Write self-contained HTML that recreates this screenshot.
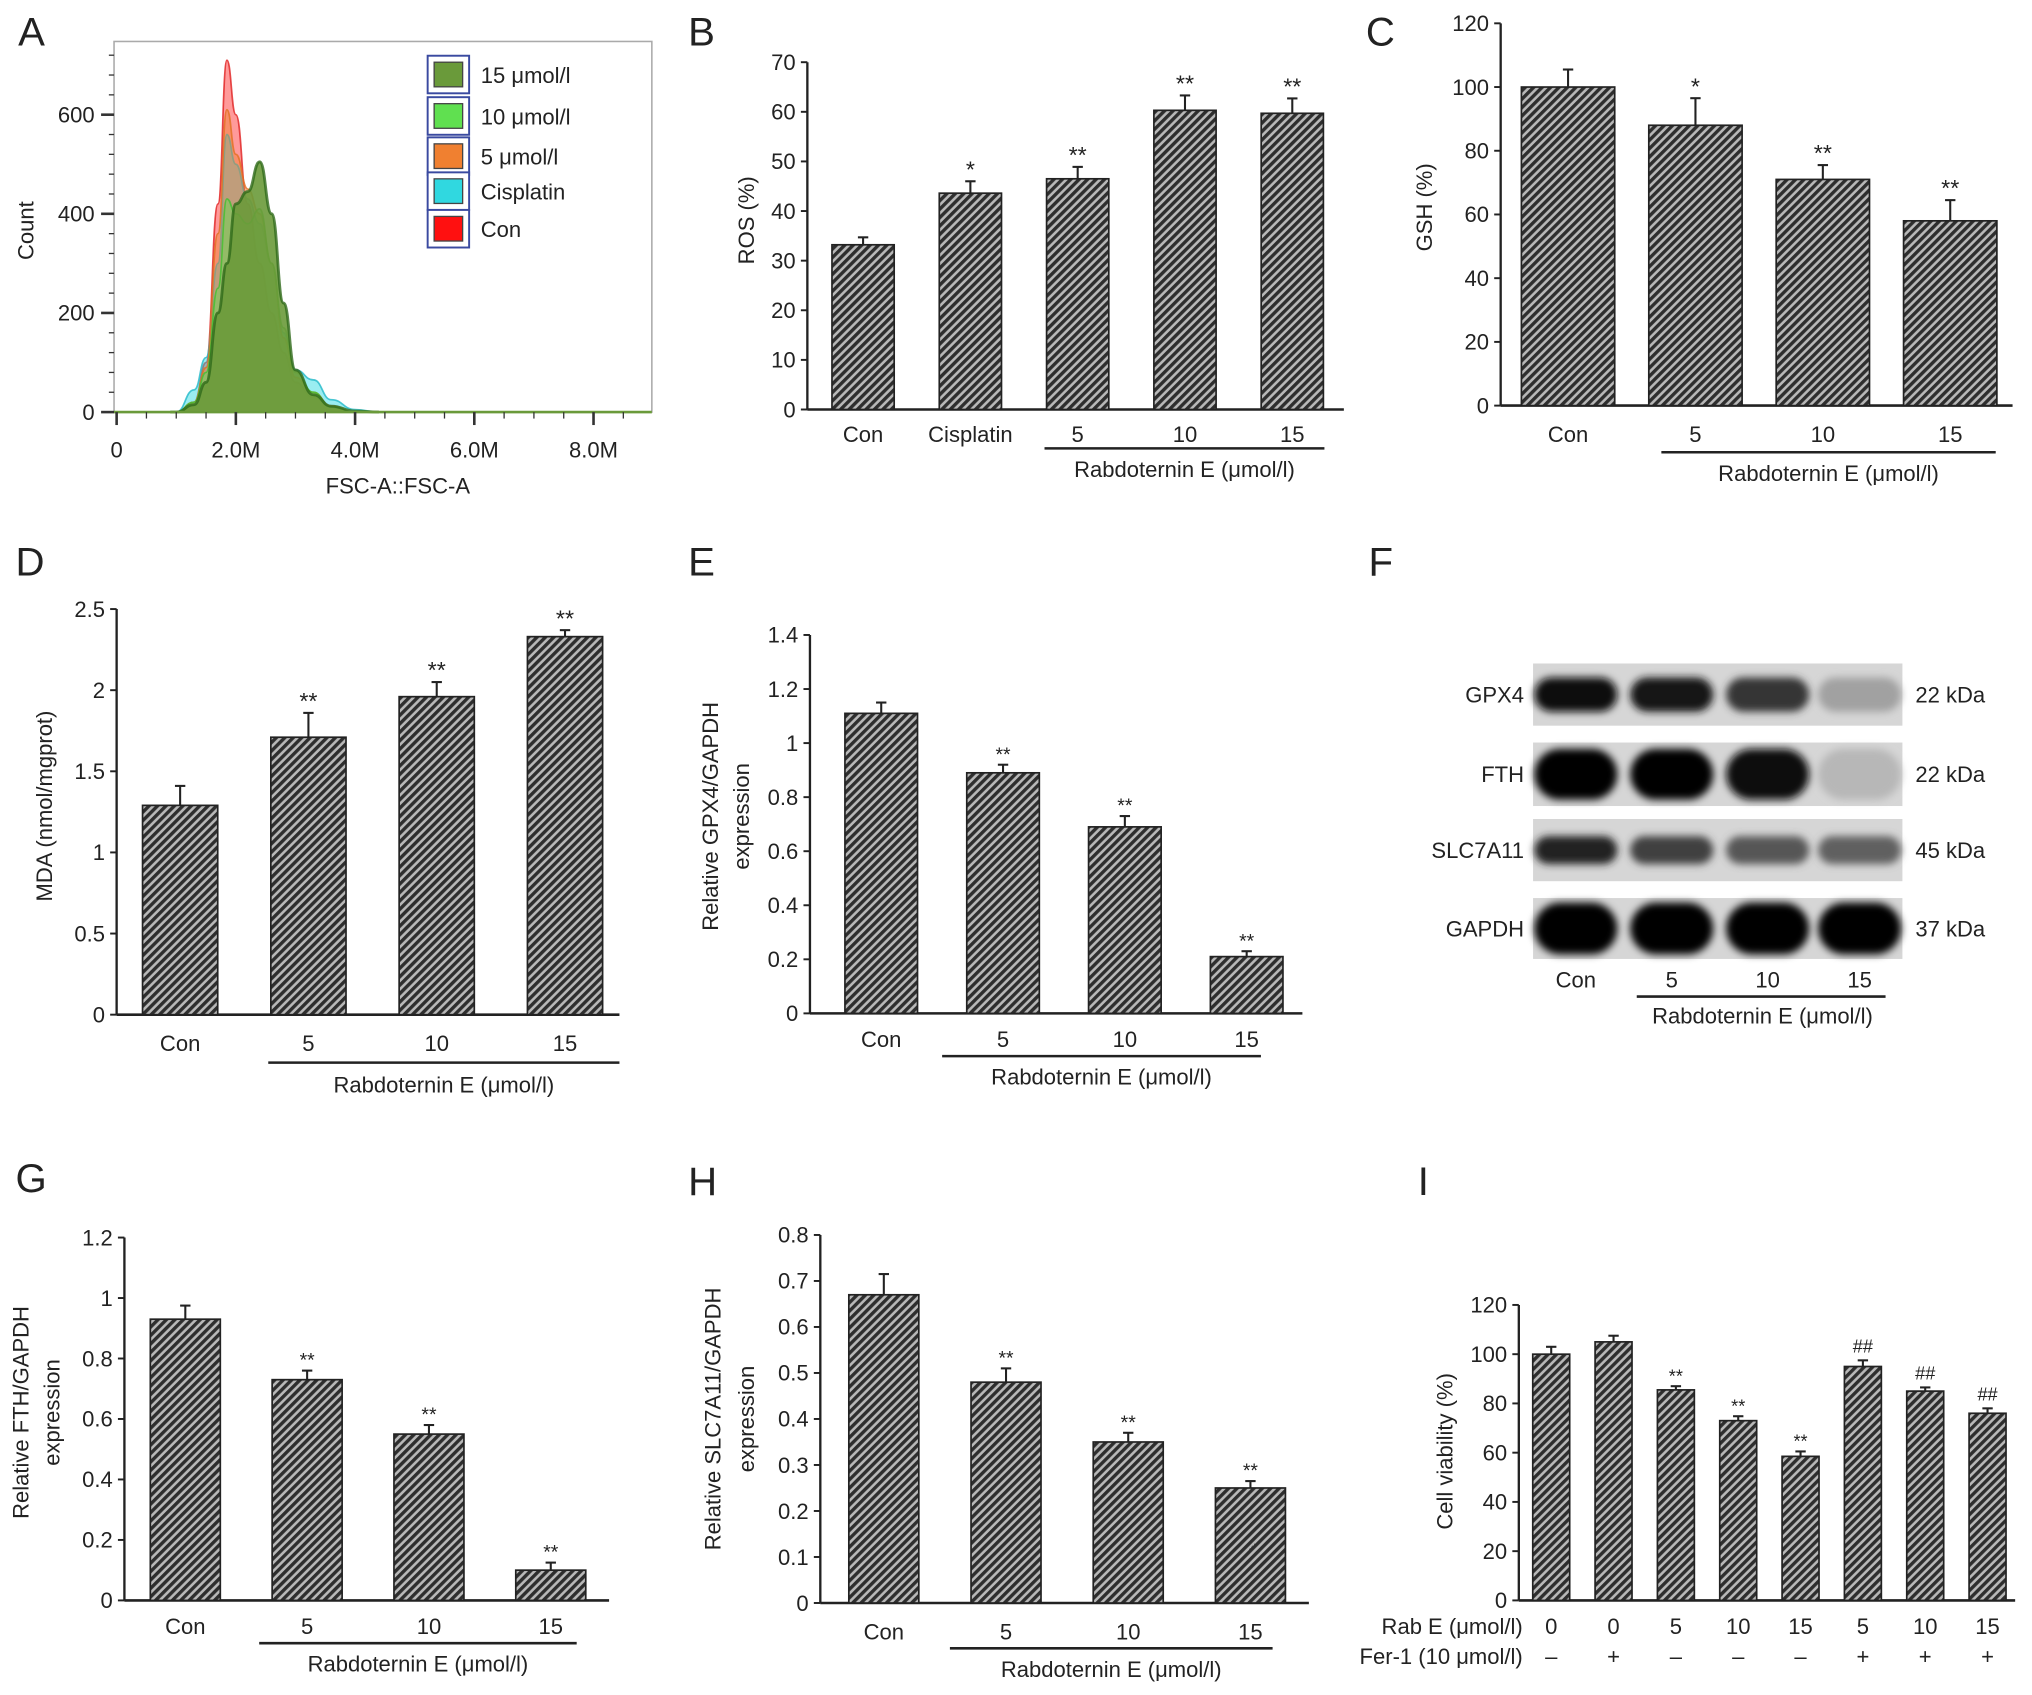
<!DOCTYPE html>
<html><head><meta charset="utf-8">
<style>
html,body{margin:0;padding:0;background:#fff;}
svg{display:block;font-family:"Liberation Sans",Arial,sans-serif;}
text{fill:#222;}
</style></head>
<body>
<svg id="fig" xmlns="http://www.w3.org/2000/svg" width="2032" height="1695" viewBox="0 0 1568 1308" preserveAspectRatio="none">
<defs>
<pattern id="hatch" patternUnits="userSpaceOnUse" width="4.6" height="4.6" patternTransform="rotate(45)">
<rect width="4.6" height="4.6" fill="#b8b8b8"/>
<rect width="2.6" height="4.6" fill="#2e2e2e"/>
</pattern>
<filter id="blur" x="-20%" y="-50%" width="140%" height="200%"><feGaussianBlur stdDeviation="3"/></filter>
</defs>
<g id="root"></g>
</svg>
<script>
// ---- Panel A data (flow histogram) ----
const aBinsM = [1.0,1.3,1.5,1.7,1.85,2.0,2.2,2.4,2.6,2.8,3.0,3.3,3.6,4.0,4.4];
const aCon = [0,20,100,420,710,600,420,300,200,120,60,30,10,0,0];
const aCisplatin = [0,45,110,300,560,500,430,380,300,160,85,65,25,5,0];
const a5 = [0,20,90,360,610,520,450,400,300,150,70,40,12,0,0];
const a10 = [0,20,80,250,430,400,380,410,300,170,80,40,10,0,0];
const a15 = [0,15,60,200,300,420,445,505,400,220,85,35,12,2,0];
const aLegend = ["15 \u03bcmol/l","10 \u03bcmol/l","5 \u03bcmol/l","Cisplatin","Con"];
const aXTicks = [0,2,4,6,8];
const aXTickLabels = ["0","2.0M","4.0M","6.0M","8.0M"];
const aYTicks = [0,200,400,600];

// ---- Panel B ----
const bCategories = ["Con","Cisplatin","5","10","15"];
const bValues = [33.2,43.6,46.5,60.3,59.7];
const bErrors = [1.5,2.4,2.4,3.0,3.0];
const bMarks = ["","*","**","**","**"];
const bYTicks = [0,10,20,30,40,50,60,70];

// ---- Panel C ----
const cCategories = ["Con","5","10","15"];
const cValues = [100,88,71,58];
const cErrors = [5.5,8.5,4.5,6.5];
const cMarks = ["","*","**","**"];
const cYTicks = [0,20,40,60,80,100,120];

// ---- Panel D ----
const dCategories = ["Con","5","10","15"];
const dValues = [1.29,1.71,1.96,2.33];
const dErrors = [0.12,0.15,0.09,0.04];
const dMarks = ["","**","**","**"];
const dYTicks = [0,0.5,1,1.5,2,2.5];
const dYTickLabels = ["0","0.5","1","1.5","2","2.5"];

// ---- Panel E ----
const eCategories = ["Con","5","10","15"];
const eValues = [1.11,0.89,0.69,0.21];
const eErrors = [0.04,0.03,0.04,0.02];
const eMarks = ["","**","**","**"];
const eYTicks = [0,0.2,0.4,0.6,0.8,1,1.2,1.4];
const eYTickLabels = ["0","0.2","0.4","0.6","0.8","1","1.2","1.4"];

// ---- Panel F (western blot band intensities 0..1) ----
const fProteins = ["GPX4","FTH","SLC7A11","GAPDH"];
const fKda = ["22 kDa","22 kDa","45 kDa","37 kDa"];
const fLanes = ["Con","5","10","15"];
const fGPX4 = [0.95,0.9,0.75,0.25];
const fFTH = [1.0,1.0,0.95,0.15];
const fSLC = [0.85,0.7,0.6,0.55];
const fGAPDH = [1.0,1.0,1.0,1.0];

// ---- Panel G ----
const gCategories = ["Con","5","10","15"];
const gValues = [0.93,0.73,0.55,0.10];
const gErrors = [0.045,0.03,0.03,0.025];
const gMarks = ["","**","**","**"];
const gYTicks = [0,0.2,0.4,0.6,0.8,1,1.2];
const gYTickLabels = ["0","0.2","0.4","0.6","0.8","1","1.2"];

// ---- Panel H ----
const hCategories = ["Con","5","10","15"];
const hValues = [0.67,0.48,0.35,0.25];
const hErrors = [0.045,0.03,0.02,0.015];
const hMarks = ["","**","**","**"];
const hYTicks = [0,0.1,0.2,0.3,0.4,0.5,0.6,0.7,0.8];
const hYTickLabels = ["0","0.1","0.2","0.3","0.4","0.5","0.6","0.7","0.8"];

// ---- Panel I ----
const iRabE = ["0","0","5","10","15","5","10","15"];
const iFer1 = ["\u2013","+","\u2013","\u2013","\u2013","+","+","+"];
const iValues = [100,105,85.5,73,58.5,95,85,76];
const iErrors = [3,2.5,1.5,1.8,2,2.5,1.5,2];
const iMarks = ["","","**","**","**","##","##","##"];
const iYTicks = [0,20,40,60,80,100,120];

const NS = "http://www.w3.org/2000/svg";
const root = document.getElementById("root");
function mk(tag, attrs, parent, txt){
  const e = document.createElementNS(NS, tag);
  for (const k in attrs) e.setAttribute(k, attrs[k]);
  if (txt !== undefined) e.textContent = txt;
  (parent || root).appendChild(e);
  return e;
}
function panelLetter(t, x, y){
  const e = mk("text",{x:x,y:y,"font-size":31},root,t);
  
  
}

function barChart(o){
  const g = mk("g",{});
  
  
  const y = v => o.y0 - (v - 0) / (o.yMax) * (o.y0 - o.yTop);
  // y axis
  const ax = mk("line",{x1:o.ax,y1:o.yTop,x2:o.ax,y2:o.y0,stroke:"#222","stroke-width":1.8},g);
  
  
  o.yTicks.forEach((t,i) => {
    const tk = mk("line",{x1:o.ax-5,y1:y(t),x2:o.ax,y2:y(t),stroke:"#222","stroke-width":1.5},g);
    
    
    const lb = mk("text",{x:o.ax-9,y:y(t)+6,"text-anchor":"end","font-size":17},g,o.yTickLabels ? o.yTickLabels[i] : String(t));
    
    
  });
  const xa = mk("line",{x1:o.ax,y1:o.y0,x2:o.axEnd,y2:o.y0,stroke:"#222","stroke-width":2},g);
  
  
  o.values.forEach((v,i) => {
    const cx = o.first + i * o.step;
    const top = y(v);
    const ey = y(v + o.errors[i]);
    const el = mk("line",{x1:cx,y1:top,x2:cx,y2:ey,stroke:"#222","stroke-width":1.6},g);
    
    
    const cap = mk("line",{x1:cx-4,y1:ey,x2:cx+4,y2:ey,stroke:"#222","stroke-width":1.6},g);
    
    
    const r = mk("rect",{x:cx-o.bw/2,y:top,width:o.bw,height:o.y0-top,fill:"url(#hatch)",stroke:"#222","stroke-width":1.3},g);
    
    
    if (o.marks[i]) {
      const m = mk("text",{x:cx,y:ey-(o.marks[i][0]==="#"?6:3),"text-anchor":"middle","font-size":o.markSize||18},g,o.marks[i]);
      
      
    }
    if (o.categories) {
      const c = mk("text",{x:cx,y:o.labelY,"text-anchor":"middle","font-size":17},g,o.categories[i]);
      
      
    }
  });
  if (o.under) {
    const u = mk("line",{x1:o.under[0],y1:o.under[2],x2:o.under[1],y2:o.under[2],stroke:"#222","stroke-width":2},g);
    
    
    const t = mk("text",{x:(o.under[0]+o.under[1])/2 + (o.titleDx||0),y:o.under[3],"text-anchor":"middle","font-size":17},g,"Rabdoternin E (\u03bcmol/l)");
    
    
  }
  o.ylab.forEach((s,i) => {
    const t = mk("text",{x:0,y:0,"text-anchor":"middle","font-size":17,transform:`translate(${o.ylabX[i]},${o.ylabY}) rotate(-90)`},g,s);
    
    
  });
}

// ===== Panel A =====
panelLetter("A",14,35);
(function(){
  const g = mk("g",{});
  
  
  const X = m => 90 + m * 46;
  const Y = c => 318 - c * 0.3825;
  const box = mk("rect",{x:88,y:32,width:415,height:286,fill:"none",stroke:"#aaa","stroke-width":1.2},g);
  
  
  const series = [[aCon,"#ff2020","#e02020"],[aCisplatin,"#20d8e0","#20b8c8"],[a5,"#f08030","#e07020"],[a10,"#60e050","#40c030"],[a15,"#6a9a3a","#2f6a1a"]];
  const names = ["con","cisplatin","5-umol","10-umol","15-umol"];
  series.forEach((s,si) => {
    let d = `M${X(0.9)},${Y(0)} L${X(aBinsM[0])},${Y(0)}`;
    const pts = aBinsM.map((b,i)=>[X(b),Y(s[0][i])]);
    for (let i=1;i<pts.length;i++){
      const p0=pts[i-1], p1=pts[i], mx=(p0[0]+p1[0])/2;
      d += ` C${mx},${p0[1]} ${mx},${p1[1]} ${p1[0]},${p1[1]}`;
    }
    const fillD = d + ` L${X(8.9)},${Y(0)} Z`;
    const f = mk("path",{d:fillD,fill:s[1],"fill-opacity":si===4?0.9:0.45,stroke:"none"},g);
    
    
    const l = mk("path",{d:d,fill:"none",stroke:s[2],"stroke-width":si===4?2.2:1.3,"stroke-opacity":0.8},g);
    
    
  });
  const base = mk("line",{x1:88,y1:318,x2:503,y2:318,stroke:"#6a9a3a","stroke-width":2},g);
  
  
  // y ticks
  for (let v=0; v<=720; v+=40){
    const major = aYTicks.indexOf(v) >= 0;
    const t = mk("line",{x1:major?78:84,y1:Y(v),x2:88,y2:Y(v),stroke:"#333","stroke-width":major?2:1},g);
    
    
  }
  aYTicks.forEach(v => {
    const t = mk("text",{x:73,y:Y(v)+6,"text-anchor":"end","font-size":17},g,String(v));
    
    
  });
  for (let m=0; m<=8.8; m+=0.5){
    const major = Math.abs(m - Math.round(m/2)*2) < 1e-6;
    const t = mk("line",{x1:X(m),y1:318,x2:X(m),y2:major?328:323,stroke:"#333","stroke-width":major?2:1},g);
    
    
  }
  aXTicks.forEach((m,i) => {
    const t = mk("text",{x:X(m),y:353,"text-anchor":"middle","font-size":17},g,aXTickLabels[i]);
    
    
  });
  const xt = mk("text",{x:307,y:381,"text-anchor":"middle","font-size":17},g,"FSC-A::FSC-A");
  
  
  const yt = mk("text",{x:0,y:0,"text-anchor":"middle","font-size":17,transform:"translate(26,178) rotate(-90)"},g,"Count");
  
  
  const legCols = ["#6a9a3a","#60e050","#f08030","#30d8e0","#ff1010"];
  const legY = [58,90,121,148,177];
  aLegend.forEach((s,i) => {
    const lg = mk("g",{},g);
    
    
    mk("rect",{x:330,y:legY[i]-15,width:32,height:29,fill:"#fff",stroke:"#3a4aa0","stroke-width":1.5},lg);
    mk("rect",{x:335,y:legY[i]-10,width:22,height:19,fill:legCols[i],stroke:"#444","stroke-width":1},lg);
    mk("text",{x:371,y:legY[i]+6,"font-size":17},lg,s);
  });
})();

// ===== Panel B =====
panelLetter("B",531,35);
barChart({name:"panel-b-ros",ax:623,axEnd:1037,y0:316,yTop:48,yMax:70,yTicks:bYTicks,values:bValues,errors:bErrors,marks:bMarks,categories:bCategories,first:666,step:82.8,bw:48,labelY:341,under:[806,1022,346,368],ylab:["ROS (%)"],ylabX:[582],ylabY:170});
// ===== Panel C =====
panelLetter("C",1054,35);
barChart({name:"panel-c-gsh",ax:1158,axEnd:1553,y0:313,yTop:18,yMax:120,yTicks:cYTicks,values:cValues,errors:cErrors,marks:cMarks,categories:cCategories,first:1210,step:98.3,bw:72,labelY:341,under:[1282,1540,349,371],ylab:["GSH (%)"],ylabX:[1105],ylabY:160});
// ===== Panel D =====
panelLetter("D",12,444);
barChart({name:"panel-d-mda",ax:90,axEnd:478,y0:783,yTop:470,yMax:2.5,yTicks:dYTicks,yTickLabels:dYTickLabels,values:dValues,errors:dErrors,marks:dMarks,categories:dCategories,first:139,step:99,bw:58,labelY:811,under:[207,478,820,843],ylab:["MDA (nmol/mgprot)"],ylabX:[40],ylabY:622});
// ===== Panel E =====
panelLetter("E",531,444);
barChart({name:"panel-e-gpx4",ax:625,axEnd:1005,y0:782,yTop:490,yMax:1.4,yTicks:eYTicks,yTickLabels:eYTickLabels,values:eValues,errors:eErrors,marks:eMarks,markSize:15,categories:eCategories,first:680,step:94,bw:56,labelY:808,under:[727,973,815,837],ylab:["Relative GPX4/GAPDH","expression"],ylabX:[554,578],ylabY:630});
// ===== Panel G =====
panelLetter("G",12,920);
barChart({name:"panel-g-fth",ax:96,axEnd:470,y0:1235,yTop:955,yMax:1.2,yTicks:gYTicks,yTickLabels:gYTickLabels,values:gValues,errors:gErrors,marks:gMarks,markSize:15,categories:gCategories,first:143,step:94,bw:54,labelY:1261,under:[200,445,1268,1290],ylab:["Relative FTH/GAPDH","expression"],ylabX:[22,46],ylabY:1090});
// ===== Panel H =====
panelLetter("H",531,922);
barChart({name:"panel-h-slc7a11",ax:633,axEnd:1010,y0:1237,yTop:953,yMax:0.8,yTicks:hYTicks,yTickLabels:hYTickLabels,values:hValues,errors:hErrors,marks:hMarks,markSize:15,categories:hCategories,first:682,step:94.3,bw:54,labelY:1265,under:[733,982,1272,1294],ylab:["Relative SLC7A11/GAPDH","expression"],ylabX:[556,582],ylabY:1095});
// ===== Panel I =====
panelLetter("I",1094,922);
barChart({name:"panel-i-viability",ax:1172,axEnd:1555,y0:1235,yTop:1007,yMax:120,yTicks:iYTicks,values:iValues,errors:iErrors,marks:iMarks,markSize:14,first:1197,step:48.1,bw:28.5,ylab:["Cell viability (%)"],ylabX:[1121],ylabY:1120});
(function(){
  const g = mk("g",{});
  
  
  const r1 = mk("text",{x:1175,y:1261,"text-anchor":"end","font-size":17},g,"Rab E (\u03bcmol/l)");
  
  
  const r2 = mk("text",{x:1175,y:1284,"text-anchor":"end","font-size":17},g,"Fer-1 (10 \u03bcmol/l)");
  
  
  iRabE.forEach((s,i) => {
    const cx = 1197 + i*48.1;
    const a = mk("text",{x:cx,y:1261,"text-anchor":"middle","font-size":17},g,s);
    
    
    const b = mk("text",{x:cx,y:1284,"text-anchor":"middle","font-size":17},g,iFer1[i]);
    
    
  });
})();

// ===== Panel F (western blot) =====
panelLetter("F",1056,444);
(function(){
  const g = mk("g",{});
  
  
  const rows = [[512,560,fGPX4,0.55],[573,622,fFTH,0.8],[632,680,fSLC,0.45],[693,740,fGAPDH,0.85]];
  const lanes = [1216,1290,1364,1435];
  rows.forEach((r,ri) => {
    const rg = mk("g",{},g);
    
    
    mk("rect",{x:1183,y:r[0],width:285,height:r[1]-r[0],fill:"#d6d6d6"},rg);
    const mid = (r[0]+r[1])/2;
    const bh = (r[1]-r[0])*r[3];
    r[2].forEach((v,li) => {
      const c = Math.round(215 - 215*v);
      const band = mk("rect",{x:lanes[li]-32,y:mid-bh/2,width:64,height:bh,rx:bh/2,fill:`rgb(${c},${c},${c})`,filter:"url(#blur)"},rg);
      
      
    });
    const pl = mk("text",{x:1176,y:mid+6,"text-anchor":"end","font-size":17},g,fProteins[ri]);
    
    
    const kl = mk("text",{x:1478,y:mid+6,"font-size":17},g,fKda[ri]);
    
    
  });
  fLanes.forEach((s,i) => {
    const t = mk("text",{x:lanes[i],y:762,"text-anchor":"middle","font-size":17},g,s);
    
    
  });
  const u = mk("line",{x1:1263,y1:769,x2:1455,y2:769,stroke:"#222","stroke-width":2},g);
  
  
  const t = mk("text",{x:1360,y:790,"text-anchor":"middle","font-size":17},g,"Rabdoternin E (\u03bcmol/l)");
  
  
})();
</script>
</body></html>
